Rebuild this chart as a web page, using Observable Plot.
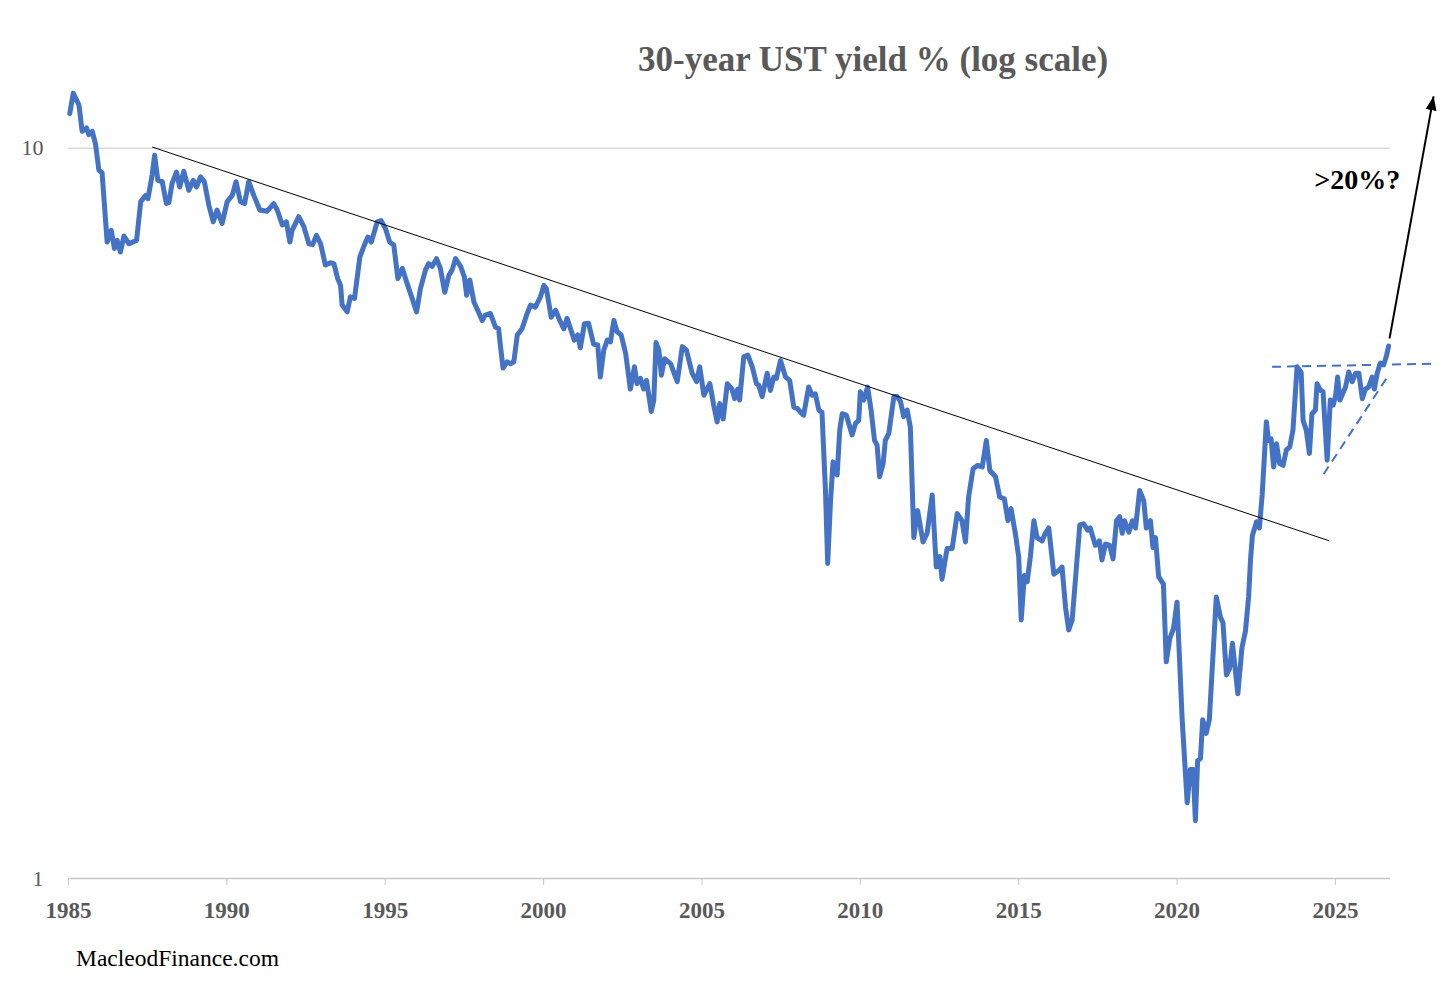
<!DOCTYPE html>
<html>
<head>
<meta charset="utf-8">
<script src="https://cdn.jsdelivr.net/npm/d3@7"></script>
<script src="https://cdn.jsdelivr.net/npm/@observablehq/plot@0.6"></script>
<style>
  body { margin: 0; background: #fff; overflow: hidden; }
  #page { position: relative; width: 1456px; height: 989px; font-family: "Liberation Serif", serif; }
  #chart { position: absolute; left: 0; top: 0; }
  #title { position: absolute; left: 638px; top: 42px; font-size: 35px; line-height: 35px; font-weight: bold; color: #595959; white-space: nowrap; }
  #credit { position: absolute; left: 76px; top: 947px; font-size: 23.5px; line-height: 23px; color: #000; white-space: nowrap; }
</style>
</head>
<body>
<div id="page">
  <div id="chart"></div>
  <div id="title">30-year UST yield % (log scale)</div>
  <div id="credit">MacleodFinance.com</div>
</div>
<script>
// 30-year yield, one row per year
const dates = [
  1985.04, 1985.15, 1985.33, 1985.43, 1985.57, 1985.64, 1985.75, 1985.85, 1985.96,
  1986.06, 1986.22, 1986.35, 1986.45, 1986.54, 1986.64, 1986.75, 1986.91,
  1987.15, 1987.28, 1987.44, 1987.51, 1987.64, 1987.72, 1987.82, 1987.96,
  1988.09, 1988.17, 1988.27, 1988.41, 1988.51, 1988.64, 1988.80, 1988.94,
  1989.04, 1989.17, 1989.29, 1989.43, 1989.57, 1989.69, 1989.85,
  1990.01, 1990.17, 1990.29, 1990.43, 1990.56, 1990.69, 1990.85,
  1991.04, 1991.27, 1991.48, 1991.59, 1991.75, 1991.88, 1991.99,
  1992.06, 1992.27, 1992.43, 1992.59, 1992.71, 1992.83, 1992.96,
  1993.11, 1993.27, 1993.38, 1993.50, 1993.59, 1993.64, 1993.80, 1993.90,
  1994.03, 1994.20, 1994.32, 1994.45, 1994.56, 1994.75, 1994.87,
  1995.01, 1995.14, 1995.27, 1995.40, 1995.54, 1995.69, 1995.85, 1995.99,
  1996.11, 1996.27, 1996.37, 1996.48, 1996.62, 1996.74, 1996.88,
  1997.01, 1997.11, 1997.22, 1997.38, 1997.50, 1997.57, 1997.67, 1997.80, 1997.92,
  1998.06, 1998.16, 1998.32, 1998.48, 1998.58, 1998.64, 1998.72, 1998.85, 1998.95,
  1999.06, 1999.17, 1999.32, 1999.48, 1999.59, 1999.74, 1999.90,
  2000.01, 2000.09, 2000.24, 2000.38, 2000.51, 2000.64, 2000.74, 2000.85, 2000.97,
  2001.08, 2001.16, 2001.29, 2001.42, 2001.58, 2001.71, 2001.79, 2001.90,
  2002.01, 2002.11, 2002.22, 2002.32, 2002.45, 2002.59, 2002.74, 2002.87, 2002.95,
  2003.06, 2003.16, 2003.25, 2003.40, 2003.48, 2003.55, 2003.64, 2003.72, 2003.82,
  2004.01, 2004.22, 2004.38, 2004.51, 2004.69, 2004.83, 2004.93,
  2005.06, 2005.25, 2005.37, 2005.48, 2005.56, 2005.67, 2005.80, 2005.95,
  2006.03, 2006.13, 2006.19, 2006.32, 2006.45, 2006.59, 2006.72, 2006.79, 2006.90,
  2007.06, 2007.16, 2007.27, 2007.35, 2007.48, 2007.64, 2007.77, 2007.90,
  2008.02, 2008.11, 2008.21, 2008.37, 2008.48, 2008.58, 2008.69, 2008.79, 2008.90, 2008.97,
  2009.06, 2009.14, 2009.21, 2009.27, 2009.35, 2009.43, 2009.56, 2009.67, 2009.74, 2009.85, 2009.95,
  2010.00, 2010.11, 2010.23, 2010.34, 2010.45, 2010.53, 2010.61, 2010.72, 2010.79, 2010.90,
  2011.06, 2011.16, 2011.27, 2011.37, 2011.48, 2011.58, 2011.69, 2011.81, 2011.98,
  2012.11, 2012.27, 2012.40, 2012.51, 2012.58, 2012.74, 2012.90,
  2013.06, 2013.21, 2013.32, 2013.42, 2013.56, 2013.71, 2013.85, 2013.98,
  2014.09, 2014.27, 2014.40, 2014.55, 2014.66, 2014.76, 2014.90,
  2015.00, 2015.08, 2015.18, 2015.27, 2015.37, 2015.48, 2015.58, 2015.74, 2015.84, 2015.95,
  2016.11, 2016.26, 2016.37, 2016.48, 2016.58, 2016.69, 2016.79, 2016.93,
  2017.05, 2017.18, 2017.26, 2017.42, 2017.55, 2017.63, 2017.74, 2017.87, 2017.98,
  2018.09, 2018.19, 2018.27, 2018.34, 2018.48, 2018.59, 2018.69, 2018.82, 2018.95,
  2019.03, 2019.16, 2019.24, 2019.32, 2019.42, 2019.57, 2019.66, 2019.77, 2019.89,
  2020.00, 2020.16, 2020.32, 2020.42, 2020.51, 2020.58, 2020.65, 2020.74, 2020.81, 2020.92,
  2021.02, 2021.24, 2021.37, 2021.45, 2021.56, 2021.66, 2021.75, 2021.92,
  2022.05, 2022.16, 2022.26, 2022.32, 2022.38, 2022.51, 2022.60, 2022.69, 2022.82, 2022.89, 2022.97,
  2023.05, 2023.14, 2023.24, 2023.35, 2023.45, 2023.56, 2023.66, 2023.79, 2023.92, 2023.98,
  2024.08, 2024.18, 2024.26, 2024.37, 2024.42, 2024.53, 2024.61, 2024.74, 2024.84, 2024.93,
  2025.01, 2025.07, 2025.14, 2025.21, 2025.32, 2025.42, 2025.53, 2025.64, 2025.74, 2025.85, 2025.95,
  2026.05, 2026.16, 2026.23, 2026.32, 2026.42, 2026.52, 2026.61, 2026.68
]

const yields = [
  11.16, 11.90, 11.46, 10.55, 10.66, 10.44, 10.55, 10.15, 9.33,
  9.26, 7.44, 7.72, 7.29, 7.48, 7.21, 7.58, 7.40,
  7.48, 8.45, 8.62, 8.53, 9.19, 9.78, 9.04, 9.00,
  8.40, 8.43, 8.95, 9.28, 8.85, 9.30, 8.76, 9.04,
  8.85, 9.14, 9.00, 8.36, 7.93, 8.23, 7.89,
  8.45, 8.62, 9.00, 8.45, 8.40, 9.00, 8.62,
  8.23, 8.20, 8.40, 8.23, 7.85, 7.93, 7.44,
  7.72, 8.06, 7.81, 7.40, 7.38, 7.60, 7.40,
  6.92, 6.97, 6.95, 6.63, 6.49, 6.10, 5.97, 6.26,
  6.23, 7.10, 7.33, 7.56, 7.44, 7.93, 7.96,
  7.76, 7.44, 7.37, 6.63, 6.85, 6.53, 6.23, 5.97,
  6.42, 6.81, 6.95, 6.89, 7.06, 6.85, 6.35,
  6.70, 6.81, 7.06, 6.89, 6.66, 6.29, 6.60, 6.16, 6.00,
  5.81, 5.91, 5.94, 5.69, 5.66, 5.35, 5.00, 5.10, 5.07,
  5.10, 5.55, 5.66, 5.94, 6.10, 6.06, 6.26,
  6.49, 6.42, 5.87, 6.00, 5.81, 5.66, 5.85, 5.66, 5.46,
  5.55, 5.33, 5.75, 5.76, 5.39, 5.38, 4.86, 5.29,
  5.46, 5.43, 5.81, 5.61, 5.55, 5.24, 4.68, 5.02, 4.76,
  4.84, 4.68, 4.81, 4.36, 4.52, 5.42, 5.29, 4.89, 5.15,
  5.07, 4.79, 5.35, 5.29, 4.92, 4.79, 5.02,
  4.59, 4.76, 4.45, 4.22, 4.47, 4.26, 4.76, 4.68,
  4.54, 4.68, 4.52, 5.18, 5.21, 5.02, 4.76, 4.74, 4.57,
  4.92, 4.66, 4.86, 4.84, 5.12, 4.86, 4.81, 4.42,
  4.40, 4.35, 4.31, 4.71, 4.59, 4.61, 4.38, 4.35, 3.40, 2.70,
  3.29, 3.72, 3.67, 3.57, 4.11, 4.33, 4.31, 4.15, 4.05, 4.20, 4.24,
  4.64, 4.52, 4.71, 4.38, 3.98, 3.92, 3.55, 3.70, 3.98, 4.07,
  4.57, 4.57, 4.50, 4.29, 4.38, 4.15, 2.93, 3.19, 2.89,
  2.97, 3.35, 2.67, 2.76, 2.57, 2.83, 2.83,
  3.16, 3.09, 2.89, 3.33, 3.64, 3.68, 3.66, 3.98,
  3.62, 3.55, 3.33, 3.31, 3.09, 3.21, 2.96,
  2.76, 2.26, 2.60, 2.55, 2.76, 3.09, 2.93, 2.90, 2.97, 3.02,
  2.61, 2.64, 2.67, 2.35, 2.19, 2.26, 2.56, 3.05,
  3.06, 3.00, 3.02, 2.86, 2.90, 2.73, 2.87, 2.86, 2.74,
  3.09, 3.13, 2.97, 3.09, 2.98, 3.09, 3.02, 3.40, 3.29,
  3.02, 3.09, 2.84, 2.93, 2.59, 2.53, 1.98, 2.13, 2.20,
  2.39, 1.66, 1.27, 1.41, 1.41, 1.20, 1.45, 1.46, 1.65, 1.58,
  1.65, 2.43, 2.28, 2.24, 1.90, 1.94, 2.10, 1.79,
  2.07, 2.18, 2.43, 2.73, 2.95, 3.08, 3.02, 3.36, 4.22, 3.98, 4.00,
  3.66, 3.94, 3.70, 3.68, 3.86, 3.90, 4.11, 5.02, 4.93, 4.24,
  4.11, 3.82, 4.33, 4.38, 4.76, 4.66, 4.64, 3.74, 4.52, 4.45,
  4.59, 4.86, 4.52, 4.59, 4.71, 4.94, 4.79, 4.92, 4.92, 4.54, 4.68,
  4.71, 4.86, 4.68, 4.92, 5.08, 5.05, 5.19, 5.36
]

const xTicks = [1985, 1990, 1995, 2000, 2005, 2010, 2015, 2020, 2025]
const yTicks = [1, 10]

// hand-drawn annotations, in (year, yield)
const trendX = [1987.64, 2024.81]
const trendY = [10.04, 2.90]
const flatX = [2023.00, 2028.21]
const flatY = [5.02, 5.07]
const risingX = [2024.63, 2026.68]
const risingY = [3.58, 4.89]
const arrowX = [2026.71, 2028.10]
const arrowY = [5.49, 11.78]
const noteX = 2025.69
const noteY = 9.04
const noteText = ">20%?"

const data = dates.map((d, i) => ({date: d, yield: yields[i]}))
const seg = (xs, ys) => ({x1: xs[0], y1: ys[0], x2: xs[1], y2: ys[1]})

let chart = Plot.plot({
  width: 1456,
  height: 989,
  marginLeft: 68,
  marginRight: 66,
  marginTop: 77,
  marginBottom: 111,
  style: {fontFamily: "'Liberation Serif', serif", background: "transparent", overflow: "visible"},

  x: {domain: [1985, 2026.74]},
  y: {type: "log", domain: [1, 12.5]},

  marks: [
    Plot.ruleY([10], {stroke: "#d9d9d9", strokeWidth: 1.3}),
    Plot.ruleY([1], {stroke: "#c8c8c8", strokeWidth: 1.3}),
    Plot.axisX({ticks: xTicks, tickFormat: d => String(d), tickSize: 7, tickPadding: 16,
      stroke: "#c8c8c8", fill: "#595959", fontSize: 23, fontWeight: "bold", label: null}),
    Plot.axisY({ticks: yTicks, tickFormat: d => String(d), tickSize: 0, tickPadding: 25,
      fill: "#595959", fontSize: 22, label: null}),

    Plot.line(data, {x: "date", y: "yield", stroke: "#4472c4", strokeWidth: 5,
      strokeLinejoin: "round", strokeLinecap: "round"}),

    Plot.link([seg(trendX, trendY)], {x1: "x1", y1: "y1", x2: "x2", y2: "y2", stroke: "black", strokeWidth: 1}),
    Plot.link([seg(flatX, flatY), seg(risingX, risingY)], {x1: "x1", y1: "y1", x2: "x2", y2: "y2",
      stroke: "#4472c4", strokeWidth: 2, strokeDasharray: "9,6"}),
    Plot.link([seg(arrowX, arrowY)], {x1: "x1", y1: "y1", x2: "x2", y2: "y2",
      stroke: "black", strokeWidth: 2, markerEnd: "arrow"}),
    Plot.text([{x: noteX, y: noteY, t: noteText}], {x: "x", y: "y", text: "t",
      fontSize: 28, fontWeight: "bold", fill: "black"})
  ]
})

// turn Plot's open arrow marker into a filled head like the original
const svg = d3.select(chart)
svg.selectAll("marker")
  .attr("viewBox", "-14 -7 14 14")
  .attr("markerWidth", 14).attr("markerHeight", 14)
  .attr("refX", 0).attr("refY", 0)
  .attr("markerUnits", "userSpaceOnUse")
  .attr("stroke", "none").attr("fill", "black")
  .selectAll("path")
    .attr("d", "M-14,-5.5L0,0L-14,5.5Z")
    .attr("stroke", "none").attr("fill", "black")

d3.select('#chart').append(() => chart)
</script>
</body>
</html>
